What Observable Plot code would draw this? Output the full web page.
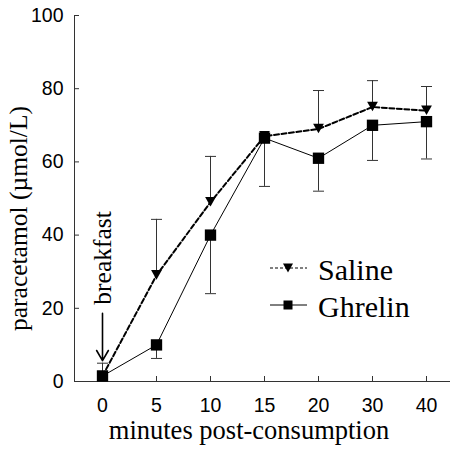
<!DOCTYPE html>
<html><head><meta charset="utf-8">
<script src="https://cdn.jsdelivr.net/npm/d3@7"></script>
<script src="https://cdn.jsdelivr.net/npm/@observablehq/plot@0.6"></script>
<style>body{margin:0;background:#fff}</style>
</head><body><div id="chart"></div>
<script>
const minutes = ["0", "5", "10", "15", "20", "30", "40"];
const salineMean = [1.5, 29, 49, 67, 69, 75, 74];
const salineUpper = [5, 44.3, 61.5, 67, 79.5, 82.2, 80.6];
const ghrelinMean = [1.5, 10, 40, 66.5, 61, 70, 71];
const ghrelinLower = [1.5, 6.3, 24, 53.3, 52, 60.4, 60.8];
const yTicks = [0, 20, 40, 60, 80, 100];
const seriesNames = ["Saline", "Ghrelin"];
const xLabel = "minutes post-consumption";
const yLabel = "paracetamol (\u00b5mol/L)";
const annotationText = "breakfast";
const annotation = [{x: "0", textY: 21, arrowFrom: 18.6, arrowTo: 5.7}];

const saline = minutes.map((m, i) => ({m, mean: salineMean[i], err: salineUpper[i]}));
const ghrelin = minutes.map((m, i) => ({m, mean: ghrelinMean[i], err: ghrelinLower[i]}));

const serif = "'Liberation Serif', 'Times New Roman', serif";
const sans = "'Liberation Sans', Arial, sans-serif";

const triangleDown = {
  draw(ctx, size) {
    const r = Math.sqrt(size / Math.PI);
    const w = r * 0.9, h = r * 1.6;
    ctx.moveTo(-w, -h * 0.55);
    ctx.lineTo(w, -h * 0.55);
    ctx.lineTo(0, h * 0.45);
    ctx.closePath();
  }
};
const capSymbol = {
  draw(ctx, size) {
    const r = Math.sqrt(size / Math.PI);
    ctx.moveTo(-r, 0);
    ctx.lineTo(r, 0);
  }
};

const chart = Plot.plot({
  width: 450,
  height: 449,
  marginLeft: 74,
  marginRight: 0,
  marginTop: 15,
  marginBottom: 68,
  style: {fontFamily: sans, fontSize: "19.5px", color: "#000", background: "#fff"},
  x: {type: "point", domain: minutes, range: [74, 454], label: null},
  y: {domain: [0, 100], label: null},
  marks: [
    Plot.frame({anchor: "left", stroke: "#333"}),
    Plot.frame({anchor: "bottom", stroke: "#333"}),
    Plot.axisY(yTicks, {tickSize: -5, tickPadding: 16, label: null, fontSize: 19.5, stroke: "#333"}),
    Plot.axisX({tickSize: -5, tickPadding: 22, label: null, fontSize: 19.5, stroke: "#333"}),
    // error bars
    Plot.ruleX(saline, {x: "m", y1: "mean", y2: "err", stroke: "#333", strokeWidth: 1}),
    Plot.dot(saline, {x: "m", y: "err", symbol: capSymbol, r: 5.5, fill: "none", stroke: "#333", strokeWidth: 1}),
    Plot.ruleX(ghrelin, {x: "m", y1: "mean", y2: "err", stroke: "#333", strokeWidth: 1}),
    Plot.dot(ghrelin, {x: "m", y: "err", symbol: capSymbol, r: 5.5, fill: "none", stroke: "#333", strokeWidth: 1}),
    // lines
    Plot.line(saline, {x: "m", y: "mean", stroke: "#000", strokeWidth: 2, strokeDasharray: "5,2.5"}),
    Plot.line(ghrelin, {x: "m", y: "mean", stroke: "#000", strokeWidth: 1}),
    Plot.dot(saline, {x: "m", y: "mean", symbol: triangleDown, r: 6, fill: "#000", stroke: "none"}),
    Plot.dot(ghrelin, {x: "m", y: "mean", symbol: "square", r: 6.4, fill: "#000", stroke: "none"}),
    // annotation
    Plot.arrow(annotation, {x1: "x", x2: "x", y1: "arrowFrom", y2: "arrowTo", stroke: "#000", strokeWidth: 1.6, headLength: 11}),
    Plot.text(annotation, {x: "x", y: "textY", text: () => annotationText, rotate: -90, textAnchor: "start", lineAnchor: "middle", fontFamily: serif, fontSize: 25.5, fill: "#000"}),
    // axis titles
    Plot.text([xLabel], {frameAnchor: "bottom", text: d => d, textAnchor: "middle", lineAnchor: "middle", dx: -13.5, dy: 49, fontFamily: serif, fontSize: 26.5, fill: "#000"}),
    Plot.text([yLabel], {frameAnchor: "left", text: d => d, rotate: -90, textAnchor: "middle", lineAnchor: "middle", dx: -56, dy: 20, fontFamily: serif, fontSize: 25.5, fill: "#000"})
  ]
});
document.getElementById("chart").appendChild(chart);

// legend inside the plot area
const svg = d3.select(chart);
const lg = svg.append("g").attr("class", "legend");
const items = [
  {name: seriesNames[0], y: 268, dash: "3,2", sym: "tri"},
  {name: seriesNames[1], y: 305, dash: null, sym: "sq"}
];
items.forEach(it => {
  lg.append("line").attr("x1", 270).attr("x2", 307).attr("y1", it.y).attr("y2", it.y)
    .attr("stroke", "#000").attr("stroke-width", 1).attr("stroke-dasharray", it.dash);
  if (it.sym === "tri") {
    lg.append("path").attr("d", `M${288 - 5},${it.y - 4.5}L${288 + 5},${it.y - 4.5}L288,${it.y + 4.5}Z`).attr("fill", "#000");
  } else {
    lg.append("rect").attr("x", 288 - 4.5).attr("y", it.y - 4.5).attr("width", 9).attr("height", 9).attr("fill", "#000");
  }
  lg.append("text").attr("x", 318).attr("y", it.y + 12).attr("text-anchor", "start")
    .attr("font-family", serif).attr("font-size", 30).attr("fill", "#000").text(it.name);
});
</script>
</body></html>
